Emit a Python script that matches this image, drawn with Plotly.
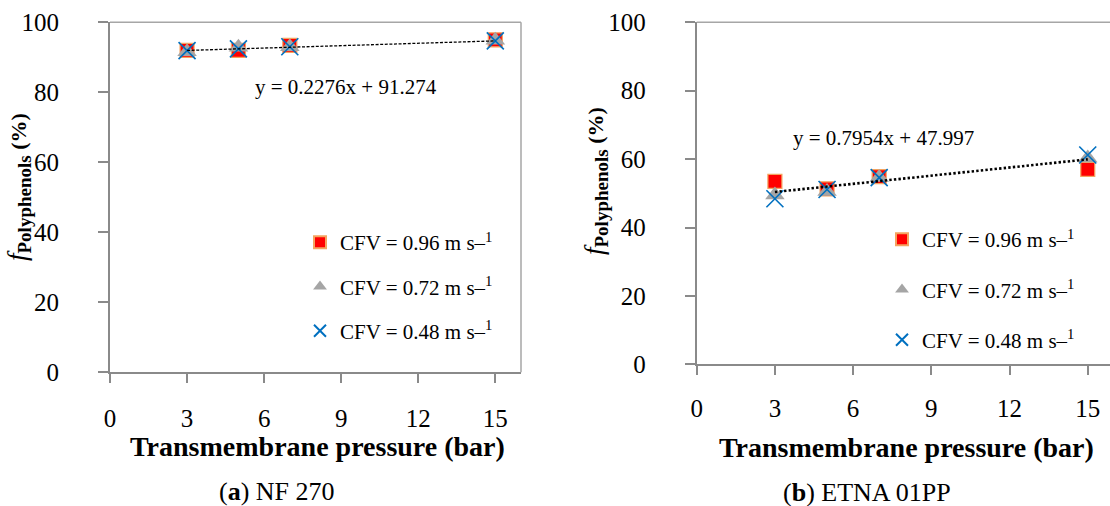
import plotly.graph_objects as go

# ---------------- data ----------------
tmp = [3, 5, 7, 15]
series_names = ["CFV = 0.96 m s–<sup>1</sup>", "CFV = 0.72 m s–<sup>1</sup>", "CFV = 0.48 m s–<sup>1</sup>"]

nf270_096 = [92.0, 92.0, 93.4, 95.0]
nf270_072 = [91.6, 92.9, 93.0, 94.9]
nf270_048 = [91.9, 92.4, 93.0, 94.7]

etna_096 = [53.5, 51.3, 54.9, 57.0]
etna_072 = [49.5, 50.5, 54.6, 60.3]
etna_048 = [48.4, 51.1, 54.6, 61.2]

trend_x = [3, 15]
trend_nf270 = [91.96, 94.69]
trend_etna = [50.38, 59.93]

eq_nf270 = "y = 0.2276x + 91.274"
eq_etna = "y = 0.7954x + 47.997"

x_ticks = [0, 3, 6, 9, 12, 15]
y_ticks = [0, 20, 40, 60, 80, 100]

# ---------------- styling ----------------
W, H = 1110, 506
SERIF = "Liberation Serif"
AXIS_COL = "#8a8a8a"
BORDER_COL = "#a6a6a6"

def px(xp):
    return xp / W

def py(yp):
    return 1 - yp / H

fig = go.Figure()

marker_styles = [
    dict(symbol="square", size=14, color="#ff0000", line=dict(color="#f4a460", width=1.2)),
    dict(symbol="triangle-up", size=17, color="#a5a5a5", line=dict(color="#a5a5a5", width=0)),
    dict(symbol="x-thin", size=17, color="#0070c0", line=dict(color="#0070c0", width=1.6)),
]

panels = [
    ("x", "y", "legend", [nf270_096, nf270_072, nf270_048], trend_nf270, dict(dash="3px,1.6px", width=1.3)),
    ("x2", "y2", "legend2", [etna_096, etna_072, etna_048], trend_etna, dict(dash="2.4px,2.2px", width=2.6)),
]

for pi, (xa, ya, leg, vals, trend, tline) in enumerate(panels):
    for si, v in enumerate(vals):
        fig.add_trace(go.Scatter(
            x=tmp, y=v, mode="markers", name=series_names[si],
            marker=marker_styles[si], xaxis=xa, yaxis=ya,
            legend=leg, legendgroup=f"p{pi}s{si}", cliponaxis=False,
        ))
    fig.add_trace(go.Scatter(
        x=trend_x, y=trend, mode="lines", showlegend=False,
        line=dict(color="black", **tline), xaxis=xa, yaxis=ya,
    ))

axis_common = dict(
    showgrid=False, zeroline=False, showline=True, linecolor=AXIS_COL, linewidth=2,
    ticks="outside", tickcolor=AXIS_COL, tickwidth=1.5, automargin=False,
    tickfont=dict(family=SERIF, size=25, color="black"),
)

fig.update_layout(
    width=W, height=H, autosize=False,
    margin=dict(l=0, r=0, t=0, b=0, autoexpand=False),
    paper_bgcolor="white", plot_bgcolor="white",
    font=dict(family=SERIF),
    xaxis=dict(domain=[px(110), px(521)], range=[0, 16], tickvals=x_ticks, ticklen=9,
               anchor="y", ticklabelstandoff=14, **axis_common),
    yaxis=dict(domain=[py(372.3), py(22.3)], range=[0, 100], tickvals=y_ticks, ticklen=10,
               anchor="x", ticklabelstandoff=34, **axis_common),
    xaxis2=dict(domain=[px(696.7), 1.0], range=[0, (1110 - 696.7) / 26.07], tickvals=x_ticks, ticklen=9,
                anchor="y2", ticklabelstandoff=12, **axis_common),
    yaxis2=dict(domain=[py(364.3), py(22.3)], range=[0, 100], tickvals=y_ticks, ticklen=10,
                anchor="x2", ticklabelstandoff=34, **axis_common),
    legend=dict(x=px(300), y=py(222), xanchor="left", yanchor="top",
                font=dict(family=SERIF, size=21, color="black"),
                itemsizing="constant", traceorder="grouped", tracegroupgap=14,
                bgcolor="rgba(0,0,0,0)"),
    legend2=dict(x=px(882), y=py(219), xanchor="left", yanchor="top",
                 font=dict(family=SERIF, size=21, color="black"),
                 itemsizing="constant", traceorder="grouped", tracegroupgap=20,
                 bgcolor="rgba(0,0,0,0)"),
    showlegend=True,
)

# plot-area border (top / right)
fig.add_shape(type="line", xref="x domain", yref="y domain", x0=0, x1=1, y0=1, y1=1,
              line=dict(color=BORDER_COL, width=1.5))
fig.add_shape(type="line", xref="x domain", yref="y domain", x0=1, x1=1, y0=0, y1=1,
              line=dict(color=BORDER_COL, width=1.5))
fig.add_shape(type="line", xref="x2 domain", yref="y2 domain", x0=0, x1=1, y0=1, y1=1,
              line=dict(color=BORDER_COL, width=1.5))

ytitle = ("<span style='font-size:27px'><i>f</i></span>"
          "<sub><b><span style='font-size:19px'>Polyphenols</span></b></sub>"
          "<b> (%)</b>")
xtitle = "<b>Transmembrane pressure (bar)</b>"

annots = [
    dict(text=ytitle, x=px(18), y=py(187), textangle=-90, size=22),
    dict(text=ytitle, x=px(596), y=py(181), textangle=-90, size=22),
    dict(text=xtitle, x=px(317), y=py(446.7), textangle=0, size=28),
    dict(text=xtitle, x=px(906.7), y=py(447), textangle=0, size=28),
    dict(text="(<b>a</b>) NF 270", x=px(277), y=py(491.7), textangle=0, size=26),
    dict(text="(<b>b</b>) ETNA 01PP", x=px(866.7), y=py(492), textangle=0, size=26),
    dict(text=eq_nf270, x=px(346), y=py(86.7), textangle=0, size=21),
    dict(text=eq_etna, x=px(883), y=py(138), textangle=0, size=21),
]
for a in annots:
    fig.add_annotation(text=a["text"], x=a["x"], y=a["y"], xref="paper", yref="paper",
                       xanchor="center", yanchor="middle", showarrow=False,
                       textangle=a["textangle"],
                       font=dict(family=SERIF, size=a["size"], color="black"))

fig.write_html("out.html")
